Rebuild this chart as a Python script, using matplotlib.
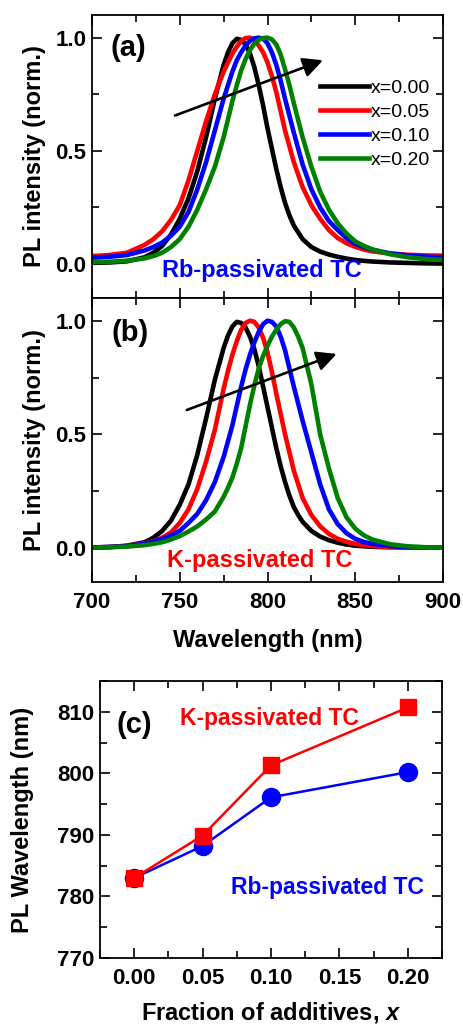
import numpy as np
import matplotlib.pyplot as plt
from matplotlib.ticker import MultipleLocator

plt.rcParams['font.family'] = ['Liberation Sans', 'DejaVu Sans']
plt.rcParams['font.weight'] = 'bold'
plt.rcParams['axes.labelweight'] = 'bold'
plt.rcParams['mathtext.fontset'] = 'custom'
plt.rcParams['mathtext.it'] = 'Liberation Sans:italic:bold'
plt.rcParams['mathtext.rm'] = 'Liberation Sans:bold'

# wavelength grid (nm) shared by all PL spectra, finer around the peaks
wl = [700, 710, 720, 730, 735, 740, 745, 750, 755, 760, 765, 770, 775,
      777.5, 780, 782.5, 785, 787.5, 790, 792.5, 795, 797.5, 800, 802.5, 805, 807.5, 810, 812.5, 815, 817.5,
      820, 825, 830, 835, 840, 845, 850, 855, 860, 870, 880, 890, 900]

fractions = ["0.00", "0.05", "0.10", "0.20"]
colors = ["black", "red", "blue", "green"]

# (a) Rb-passivated, normalised PL
pl_rb_000 = [.005, .007, .012, .03, .05, .08, .13, .20, .29, .41, .56, .73, .88,
             .935, .975, .995, .99, .97, .93, .87, .79, .70, .60, .51, .42, .34, .27, .215, .17, .14,
             .11, .075, .055, .042, .032, .024, .018, .014, .011, .007, .005, .003, .002]
pl_rb_005 = [.035, .04, .05, .085, .11, .145, .195, .26, .37, .50, .63, .75, .85,
             .89, .93, .96, .985, .998, 1.0, .99, .965, .935, .89, .83, .76, .675, .59, .52, .45, .395,
             .34, .26, .20, .15, .115, .092, .076, .064, .056, .046, .041, .038, .037]
pl_rb_010 = [.028, .032, .04, .06, .075, .095, .125, .165, .23, .33, .45, .59, .73,
             .79, .85, .90, .935, .965, .985, .997, 1.0, .995, .975, .935, .88, .81, .73, .655, .58, .51,
             .44, .33, .25, .19, .15, .115, .09, .075, .063, .047, .038, .033, .03]
pl_rb_020 = [.008, .01, .015, .025, .035, .05, .075, .11, .165, .24, .33, .43, .56,
             .64, .72, .79, .855, .905, .945, .973, .99, .998, 1.0, .992, .97, .925, .86, .79, .71, .635,
             .56, .43, .32, .24, .18, .135, .10, .08, .064, .043, .03, .022, .018]

# (b) K-passivated, normalised PL
pl_k_000 = [.002, .004, .01, .025, .045, .075, .12, .19, .28, .41, .57, .74, .88,
            .935, .975, .995, .99, .97, .93, .875, .80, .71, .62, .53, .44, .36, .29, .23, .18, .145,
            .115, .075, .05, .034, .023, .015, .01, .007, .005, .003, .002, .001, .001]
pl_k_005 = [.002, .004, .008, .02, .03, .045, .068, .11, .17, .26, .38, .52, .70,
            .78, .85, .91, .96, .99, 1.0, .995, .97, .925, .86, .775, .68, .59, .50, .42, .34, .28,
            .22, .145, .095, .062, .04, .027, .018, .012, .008, .004, .002, .001, .001]
pl_k_010 = [.002, .004, .008, .018, .028, .04, .055, .075, .11, .15, .21, .29, .40,
            .47, .54, .625, .71, .785, .85, .905, .95, .985, 1.0, .995, .975, .93, .87, .79, .71, .635,
            .56, .42, .28, .17, .105, .065, .04, .026, .018, .008, .004, .002, .001]
pl_k_020 = [.001, .003, .006, .012, .018, .025, .037, .052, .072, .095, .125, .16, .225,
            .265, .31, .37, .44, .535, .63, .715, .79, .845, .89, .93, .96, .985, .998, .995, .97, .93,
            .88, .72, .50, .35, .22, .135, .085, .055, .036, .016, .007, .003, .001]

# (c) PL peak position vs additive fraction
x_frac = [0.00, 0.05, 0.10, 0.20]
peak_k = [783.0, 789.9, 801.3, 810.7]
peak_rb = [783.0, 788.2, 796.1, 800.2]

W, H = 464, 1027
fig = plt.figure(figsize=(W / 100, H / 100), dpi=100)
ax_a = fig.add_axes([92 / W, 1 - 298 / H, 351 / W, 283 / H])
ax_b = fig.add_axes([92 / W, 1 - 582 / H, 351 / W, 284 / H])
ax_c = fig.add_axes([100 / W, 1 - 958 / H, 342 / W, 277 / H])


def style(ax):
    ax.tick_params(which='both', direction='in', top=True, right=True, width=1.2)
    ax.tick_params(which='major', length=7, labelsize=16)
    ax.tick_params(which='minor', length=5)
    ax.tick_params(axis='x', pad=7)
    ax.tick_params(axis='y', pad=4)
    for sp in ax.spines.values():
        sp.set_linewidth(1.3)


for ax, curves in ((ax_a, [pl_rb_000, pl_rb_005, pl_rb_010, pl_rb_020]),
                   (ax_b, [pl_k_000, pl_k_005, pl_k_010, pl_k_020])):
    for y, c, f in zip(curves, colors, fractions):
        ax.plot(wl, y, color=c, lw=3.3, label="x=" + f, solid_joinstyle='round')
    ax.set_xlim(700, 900)
    ax.set_ylim(-0.15, 1.1)
    ax.xaxis.set_major_locator(MultipleLocator(50))
    ax.xaxis.set_minor_locator(MultipleLocator(25))
    ax.yaxis.set_major_locator(MultipleLocator(0.5))
    ax.yaxis.set_minor_locator(MultipleLocator(0.25))
    ax.set_ylabel("PL intensity (norm.)", fontsize=17)
    ax.yaxis.set_label_coords(-0.131, 0.5)
    style(ax)

ax_a.tick_params(labelbottom=False)
ax_b.set_xlabel("Wavelength (nm)", fontsize=17)
ax_b.xaxis.set_label_coords(0.5, -0.165)

ax_a.text(720.8, 0.955, "(a)", fontsize=21, ha='center', va='center')
ax_b.text(721.7, 0.946, "(b)", fontsize=21, ha='center', va='center')
ax_a.text(796.7, -0.03, "Rb-passivated TC", color='blue', fontsize=17, ha='center', va='center')
ax_b.text(795.7, -0.054, "K-passivated TC", color='red', fontsize=17, ha='center', va='center')

arrow = dict(arrowstyle='-|>', lw=1.9, color='black', mutation_scale=30, shrinkA=0, shrinkB=0)
ax_a.annotate("", xy=(831.6, 0.90), xytext=(747.3, 0.656), arrowprops=arrow)
ax_b.annotate("", xy=(839.4, 0.854), xytext=(754.0, 0.607), arrowprops=arrow)

ax_a.legend(loc='upper left', bbox_to_anchor=(0.6496, 0.772), frameon=False,
            prop={'size': 14, 'weight': 'normal'}, handlelength=2.5, handletextpad=0.1,
            labelspacing=0.33, borderpad=0, borderaxespad=0)

# (c)
ax_c.plot(x_frac, peak_rb, color='blue', lw=1.8, marker='o', ms=13)
ax_c.plot(x_frac, peak_k, color='red', lw=1.8, marker='s', ms=12)
ax_c.set_xlim(-0.025, 0.225)
ax_c.set_ylim(770, 815)
ax_c.xaxis.set_major_locator(MultipleLocator(0.05))
ax_c.xaxis.set_minor_locator(MultipleLocator(0.025))
ax_c.yaxis.set_major_locator(MultipleLocator(10))
ax_c.yaxis.set_minor_locator(MultipleLocator(5))
ax_c.xaxis.set_major_formatter(lambda v, p: f"{v:.2f}")
style(ax_c)
ax_c.set_ylabel("PL Wavelength (nm)", fontsize=17)
ax_c.yaxis.set_label_coords(-0.193, 0.5)
ax_c.set_xlabel("Fraction of additives, $x$", fontsize=17)
ax_c.xaxis.set_label_coords(0.5, -0.153)
ax_c.text(0.0, 807.8, "(c)", fontsize=21, ha='center', va='center')
ax_c.text(0.099, 808.9, "K-passivated TC", color='red', fontsize=16.5, ha='center', va='center')
ax_c.text(0.141, 781.5, "Rb-passivated TC", color='blue', fontsize=16.5, ha='center', va='center')

fig.savefig("out.png", dpi=100)
plt.close(fig)
